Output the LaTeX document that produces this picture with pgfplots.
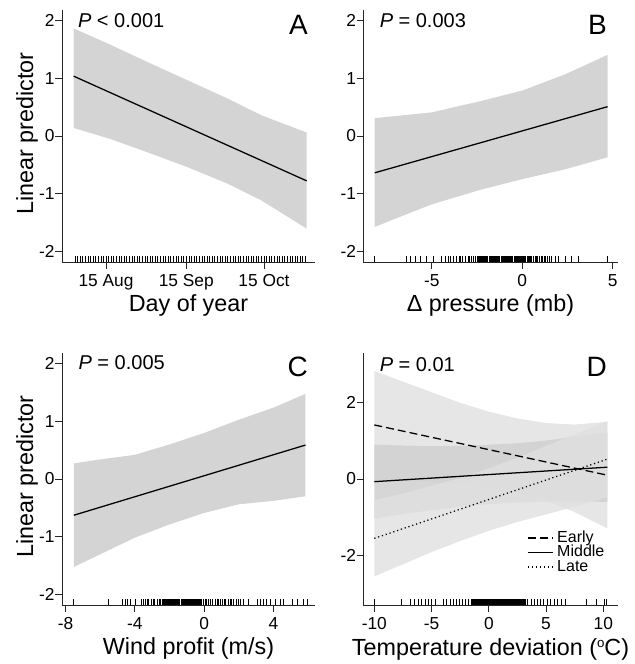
\documentclass[border=0pt]{standalone}
\usepackage{fontspec}
\setmainfont{Liberation Sans}
\usepackage{pgfplots}
\pgfplotsset{compat=1.18}
\usepackage{pgfplotstable}

\definecolor{band}{gray}{0.83}
\definecolor{bandlite}{gray}{0.88}
\definecolor{bandmid}{gray}{0.82}

% rug positions (x only)
\pgfplotstableread[row sep=\\]{x\\215\\216\\217\\218\\219\\220\\221\\222\\223\\224\\225\\226\\227\\228\\229\\230\\231\\232\\233\\234\\235\\236\\237\\238\\239\\240\\241\\242\\243\\244\\245\\246\\247\\248\\249\\250\\251\\252\\253\\254\\255\\256\\257\\258\\259\\260\\261\\262\\263\\264\\265\\266\\267\\268\\269\\270\\271\\272\\273\\274\\275\\276\\277\\278\\279\\280\\281\\282\\283\\284\\285\\286\\287\\288\\289\\290\\291\\292\\293\\294\\295\\296\\297\\298\\299\\300\\301\\302\\303\\304\\}\rugA
\pgfplotstableread[row sep=\\]{x\\-8.18\\-6.39\\-6.20\\-5.93\\-5.65\\-5.32\\-4.92\\-4.45\\-4.27\\-4.09\\-3.95\\-3.8\\-3.65\\-3.5\\-3.4\\-3.3\\-3.15\\-3.0\\-2.9\\-2.8\\-2.7\\-2.6\\-2.50\\-2.44\\-2.38\\-2.32\\-2.26\\-2.20\\-2.14\\-2.08\\-2.02\\-1.96\\-1.90\\-1.84\\-1.78\\-1.72\\-1.66\\-1.60\\-1.54\\-1.48\\-1.42\\-1.36\\-1.30\\-1.24\\-1.18\\-1.12\\-1.06\\-1.00\\-0.94\\-0.88\\-0.82\\-0.76\\-0.70\\-0.64\\-0.58\\-0.52\\-0.46\\-0.40\\-0.34\\-0.28\\-0.22\\-0.16\\-0.10\\-0.04\\0.02\\0.08\\0.14\\0.20\\0.26\\0.32\\0.38\\0.44\\0.50\\0.6\\0.7\\0.78\\0.85\\0.95\\1.05\\1.12\\1.2\\1.3\\1.4\\1.5\\1.6\\1.81\\1.99\\2.36\\2.73\\3.09\\4.72\\}\rugB
\pgfplotstableread[row sep=\\]{x\\-7.55\\-5.53\\-4.72\\-4.57\\-4.43\\-4.24\\-3.99\\-3.6\\-3.5\\-3.4\\-3.3\\-3.2\\-3.05\\-2.95\\-2.85\\-2.7\\-2.6\\-2.5\\-2.42\\-2.36\\-2.30\\-2.24\\-2.18\\-2.12\\-2.06\\-2.00\\-1.94\\-1.88\\-1.82\\-1.76\\-1.70\\-1.64\\-1.58\\-1.52\\-1.46\\-1.40\\-1.34\\-1.28\\-1.22\\-1.16\\-1.10\\-1.04\\-0.98\\-0.92\\-0.86\\-0.80\\-0.74\\-0.68\\-0.62\\-0.56\\-0.50\\-0.44\\-0.38\\-0.32\\-0.26\\-0.20\\-0.14\\-0.05\\0.05\\0.15\\0.25\\0.35\\0.45\\0.64\\0.75\\0.85\\0.95\\1.05\\1.15\\1.25\\1.4\\1.5\\1.6\\1.7\\1.85\\1.95\\2.1\\2.28\\2.57\\3.05\\3.24\\3.43\\3.62\\3.82\\4.10\\4.39\\4.59\\5.07\\5.36\\5.74\\5.94\\}\rugC
\pgfplotstableread[row sep=\\]{x\\-10.0\\-7.61\\-6.88\\-6.5\\-6.15\\-5.86\\-5.57\\-5.28\\-4.99\\-4.70\\-3.97\\-3.7\\-3.4\\-3.1\\-2.85\\-2.6\\-2.3\\-2.05\\-1.8\\-1.5\\-1.42\\-1.34\\-1.26\\-1.18\\-1.10\\-1.02\\-0.94\\-0.86\\-0.78\\-0.70\\-0.62\\-0.54\\-0.46\\-0.38\\-0.30\\-0.22\\-0.14\\-0.06\\0.02\\0.10\\0.18\\0.26\\0.34\\0.42\\0.50\\0.58\\0.66\\0.74\\0.82\\0.90\\0.98\\1.06\\1.14\\1.22\\1.30\\1.38\\1.46\\1.54\\1.62\\1.70\\1.78\\1.86\\1.94\\2.02\\2.10\\2.18\\2.26\\2.34\\2.42\\2.50\\2.58\\2.66\\2.74\\2.82\\2.90\\2.98\\3.06\\3.16\\3.4\\3.7\\3.95\\4.2\\4.5\\4.8\\5.1\\5.4\\5.7\\6.0\\6.3\\6.66\\8.55\\9.42\\10.09\\10.3\\}\rugD

\pgfplotsset{
  rpanel/.style={
    scale only axis, height=189pt,
    axis lines=left, axis line style={-, line width=0.7pt, black!85},
    tick align=outside, major tick length=5pt,
    tick style={line width=0.7pt, black!85},
    /pgf/number format/assume math mode=true,
    tick label style={font=\fontsize{13}{15}\selectfont},
    xticklabel style={yshift=-1pt},
    yticklabel style={xshift=3pt},
    label style={font=\fontsize{17.5}{20}\selectfont},
    xlabel style={at={(axis description cs:0.5,-0.195)}, anchor=base},
    ylabel style={at={(axis description cs:-0.138,0.51)}, anchor=center},
  },
  rug/.style={only marks, mark=|, mark size=2.25pt,
    mark options={line width=0.5pt, black}, forget plot},
  fit/.style={black, line width=0.95pt},
}
\tikzset{
  ptext/.style={anchor=base west, font=\fontsize{15}{17}\selectfont},
  letter/.style={anchor=base east, font=\fontsize{21}{24}\selectfont},
}

\begin{document}
\begin{tikzpicture}
\useasboundingbox (0,0) rectangle (476.25pt,498pt);

% A
\begin{axis}[rpanel, at={(46.5pt,301.5pt)}, anchor=south west, width=189.75pt,
  xmin=210, xmax=307.7, ymin=-2.19, ymax=2.19,
  xtick={227,258,288}, xticklabels={15 Aug,15 Sep,15 Oct},
  ytick={-2,-1,0,1,2},
  xlabel={Day of year}, ylabel={Linear predictor}]
\addplot[draw=none, fill=band, forget plot] coordinates {
  (214.5,1.87) (228.5,1.59) (242.8,1.29) (258.4,0.97) (274,0.65) (287,0.36) (304.5,0.06)
  (304.5,-1.61) (287,-1.12) (274,-0.83) (258.4,-0.54) (242.8,-0.28) (228.5,-0.05) (214.5,0.14)};
\addplot[fit] coordinates {(214.5,1.04) (304.5,-0.78)};
\addplot[rug] table[x index=0, y index=0, y expr=-2.138] {\rugA};
\node[ptext] at (rel axis cs:0.045,0.931) {\textit{P} < 0.001};
\node[letter] at (rel axis cs:0.99,0.901) {A};
\end{axis}

% B
\begin{axis}[rpanel, at={(272.5pt,301.5pt)}, anchor=south west, width=190.8pt,
  xmin=-8.78, xmax=5.28, ymin=-2.19, ymax=2.19,
  xtick={-5,0,5}, ytick={-2,-1,0,1,2},
  xlabel={Δ pressure (mb)}]
\addplot[draw=none, fill=band, forget plot] coordinates {
  (-8.15,0.31) (-5.02,0.41) (-2.25,0.61) (0,0.79) (2.36,1.07) (4.72,1.41)
  (4.72,-0.37) (2.36,-0.58) (0,-0.75) (-2.25,-0.93) (-5.02,-1.19) (-8.15,-1.58)};
\addplot[fit] coordinates {(-8.15,-0.64) (4.72,0.51)};
\addplot[rug] table[x index=0, y index=0, y expr=-2.138] {\rugB};
\node[ptext] at (rel axis cs:0.046,0.931) {\textit{P} = 0.003};
\node[letter] at (rel axis cs:0.976,0.901) {B};
\end{axis}

% C
\begin{axis}[rpanel, at={(46.5pt,44.25pt)}, anchor=south west, width=189.75pt,
  xmin=-8.2, xmax=6.4, ymin=-2.19, ymax=2.19,
  xtick={-8,-4,0,4}, ytick={-2,-1,0,1,2},
  xlabel={Wind profit (m/s)}, ylabel={Linear predictor}]
\addplot[draw=none, fill=band, forget plot] coordinates {
  (-7.52,0.27) (-6,0.34) (-4,0.42) (-2,0.60) (0,0.80) (2,1.03) (4,1.24) (5.85,1.48)
  (5.85,-0.30) (4,-0.38) (2,-0.44) (0,-0.59) (-2,-0.79) (-4,-1.02) (-6,-1.31) (-7.52,-1.53)};
\addplot[fit] coordinates {(-7.52,-0.63) (5.85,0.59)};
\addplot[rug] table[x index=0, y index=0, y expr=-2.138] {\rugC};
\node[ptext] at (rel axis cs:0.047,0.935) {\textit{P} = 0.005};
\node[letter] at (rel axis cs:0.99,0.906) {C};
\end{axis}

% D
\begin{axis}[rpanel, at={(272.5pt,44.25pt)}, anchor=south west, width=190.8pt,
  xmin=-10.96, xmax=11.26, ymin=-3.31, ymax=3.31,
  xtick={-10,-5,0,5,10}, ytick={-2,0,2},
  xlabel={Temperature deviation (\raisebox{0.33em}{\fontsize{10}{10}\selectfont o}C)},
  xlabel style={at={(axis description cs:0.5,-0.2)}},
  legend style={at={(0.642,0.296)}, anchor=north west, draw=none, fill=none,
    inner sep=0pt, font=\fontsize{12}{13}\selectfont, row sep=0pt,
    nodes={inner sep=0pt, text height=8.5pt, text depth=2.4pt},
    /tikz/every odd column/.append style={column sep=3pt}},
  legend cell align=left,
  legend image code/.code={\draw[#1] (0cm,0cm) -- (0.66cm,0cm);}]
% Early band
\addplot[draw=none, fill=bandlite, fill opacity=0.8, forget plot] coordinates {
  (-10,2.84) (-7.5,2.56) (-5,2.28) (-2.5,2.00) (0,1.77) (2.5,1.59) (5,1.47) (7.5,1.43) (10.35,1.50)
  (10.35,-1.30) (7.5,-0.87) (5,-0.57) (2.5,-0.37) (0,-0.23) (-2.5,-0.14) (-5,-0.08) (-7.5,-0.04) (-10,0.00)};
% Middle band
\addplot[draw=none, fill=bandmid, fill opacity=0.9, forget plot] coordinates {
  (-10,0.90) (-7.5,0.88) (-5,0.86) (-2.5,0.87) (0,0.90) (2.5,0.94) (5,1.01) (7.5,1.11) (10.35,1.22)
  (10.35,-0.60) (7.5,-0.59) (5,-0.59) (2.5,-0.62) (0,-0.66) (-2.5,-0.73) (-5,-0.82) (-7.5,-0.92) (-10,-1.04)};
% Late band
\addplot[draw=none, fill=bandlite, fill opacity=0.8, forget plot] coordinates {
  (-10,-0.56) (-7.5,-0.38) (-5,-0.18) (-2.5,0.03) (0,0.28) (2.5,0.56) (5,0.87) (7.5,1.18) (10.35,1.52)
  (10.35,-0.48) (7.5,-0.73) (5,-0.93) (2.5,-1.13) (0,-1.36) (-2.5,-1.63) (-5,-1.92) (-7.5,-2.24) (-10,-2.56)};
\addplot[fit, dash pattern=on 6pt off 3pt] coordinates {(-10,1.42) (10.35,0.10)};
\addlegendentry{Early}
\addplot[fit] coordinates {(-10,-0.07) (10.35,0.31)};
\addlegendentry{Middle}
\addplot[fit, dash pattern=on 0.9pt off 2.1pt] coordinates {(-10,-1.56) (10.35,0.52)};
\addlegendentry{Late}
\addplot[rug] table[x index=0, y index=0, y expr=-3.231] {\rugD};
\node[ptext] at (rel axis cs:0.046,0.926) {\textit{P} = 0.01};
\node[letter] at (rel axis cs:0.976,0.906) {D};
\end{axis}
\end{tikzpicture}
\end{document}
